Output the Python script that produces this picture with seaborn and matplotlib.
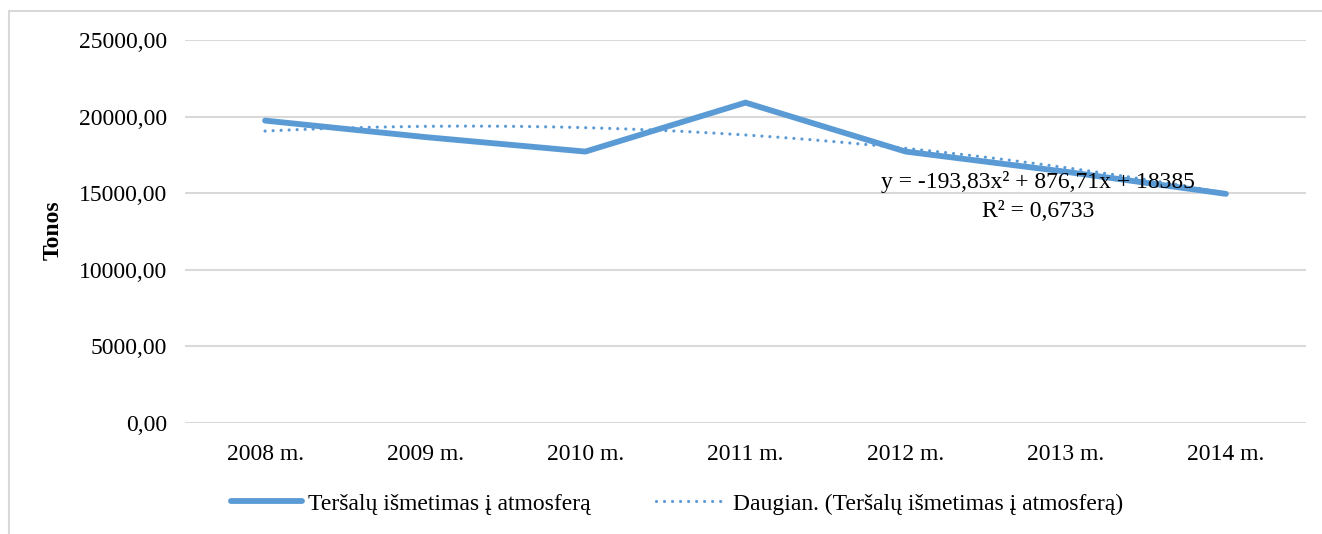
import numpy as np
import pandas as pd
import matplotlib
matplotlib.use("Agg")
import matplotlib.pyplot as plt
import seaborn as sns
from matplotlib.patches import Rectangle

categories = ["2008 m.", "2009 m.", "2010 m.", "2011 m.", "2012 m.", "2013 m.", "2014 m."]
values = [19739, 18663, 17717, 20913, 17717, 16401, 14957]
series_name = "Teršalų išmetimas į atmosferą"
trend_name = "Daugian. (Teršalų išmetimas į atmosferą)"
y_ticks = [0, 5000, 10000, 15000, 20000, 25000]
y_label = "Tonos"
eq_text = "y = -193,83x² + 876,71x + 18385"
r2_text = "R² = 0,6733"

sns.set_theme(style="white")
plt.rcParams["font.family"] = ["Liberation Serif", "DejaVu Serif"]
plt.rcParams["text.color"] = "black"

BLUE = "#5B9BD5"
GRID = "#D9D9D9"
FS = 17

fig = plt.figure(figsize=(13.22, 5.34), dpi=100)
ax = fig.add_axes([185/1322, 1-423/534, (1306-185)/1322, (423-40)/534])

pos = np.arange(len(categories))
df = pd.DataFrame({"x": pos, "y": values})
sns.lineplot(data=df, x="x", y="y", ax=ax, color=BLUE, linewidth=4.2,
             solid_capstyle="round", solid_joinstyle="miter", label=series_name, zorder=3)

# quadratic trendline (Excel x = 1..n)
coef = np.polyfit(pos + 1, values, 2)
xf = np.linspace(0, len(categories) - 1, 300)
trend = pd.DataFrame({"x": xf, "y": np.polyval(coef, xf + 1)})
sns.lineplot(data=trend, x="x", y="y", ax=ax, color=BLUE, linewidth=2.3,
             linestyle=(0, (0.01, 2.5)), dash_capstyle="round", label=trend_name, zorder=4)

ax.set_xlim(-0.5, len(categories) - 0.5)
ax.set_ylim(0, 25000)
ax.set_yticks(y_ticks)
ax.set_yticklabels([f"{v:.2f}".replace(".", ",") for v in y_ticks])
ax.set_xticks(pos)
ax.set_xticklabels(categories)
for s in ax.spines.values():
    s.set_visible(False)
ax.grid(axis="y", color=GRID, linewidth=1.5)
ax.grid(axis="x", visible=False)
ax.tick_params(axis="y", length=0, pad=13, labelsize=FS, colors="black")
ax.tick_params(axis="x", length=0, pad=15, labelsize=FS, colors="black")
ax.set_xlabel("")
ax.set_ylabel(y_label, fontsize=FS, fontweight="bold", color="black")
ax.yaxis.set_label_coords(-0.108, 0.504)

ax.text(0.761, 0.630, eq_text, transform=ax.transAxes, ha="center", va="center",
        fontsize=FS, color="black", zorder=6)
ax.text(0.761, 0.552, r2_text, transform=ax.transAxes, ha="center", va="center",
        fontsize=FS, color="black", zorder=6)

ax.legend_.remove()
h, l = ax.get_legend_handles_labels()
leg = fig.legend(h, l, loc="center", bbox_to_anchor=(677/1322, 1-504/534), ncol=2,
                 frameon=False, fontsize=FS, handlelength=3.0, handletextpad=0.25,
                 columnspacing=2.8)
for t in leg.get_texts():
    t.set_color("black")

fig.patches.append(Rectangle((9/1322, -0.1), 1.2, 1.1 - 11/534,
                             transform=fig.transFigure, fill=False,
                             edgecolor=GRID, linewidth=1.5, zorder=0))

fig.savefig("out.png", dpi=100, facecolor="white")
